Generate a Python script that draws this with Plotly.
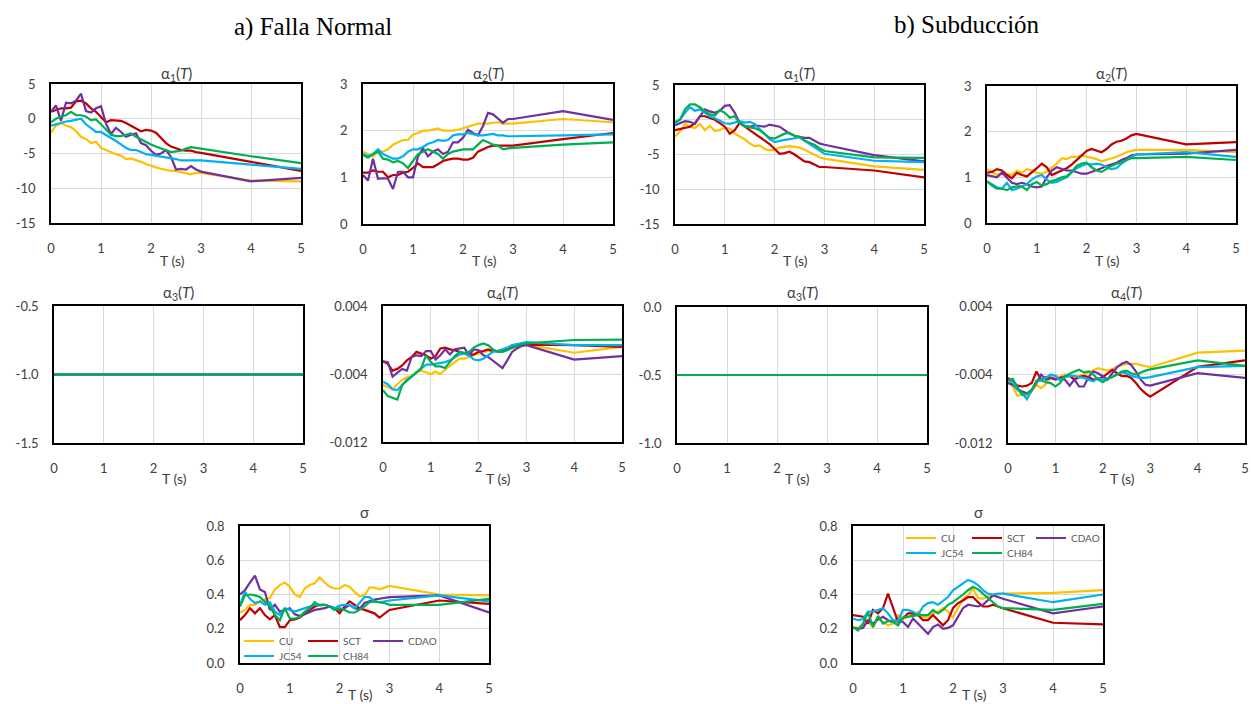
import plotly.graph_objects as go

# ---------------- data ----------------
T = [0.0, 0.1, 0.2, 0.3, 0.4, 0.5, 0.6, 0.7, 0.8, 0.9,
     1.0, 1.1, 1.2, 1.3, 1.4, 1.5, 1.6, 1.7, 1.8, 1.9,
     2.0, 2.1, 2.2, 2.3, 2.4, 2.5, 2.6, 2.7, 2.8, 2.9,
     3.0, 4.0, 5.0]

STATIONS = ["CU", "SCT", "CDAO", "JC54", "CH84"]
COLORS = ["#FFC000", "#C00000", "#7030A0", "#00B0F0", "#00B050"]

# a) Falla Normal - alpha1
fn_a1 = {
    "CU":   [-2.0, -1.0, -0.6, -1.0, -1.2, -1.8, -2.6, -2.9, -3.5, -3.3,
             -4.2, -4.5, -4.9, -5.1, -5.3, -5.8, -5.7, -5.9, -6.2, -6.5,
             -6.8, -7.0, -7.2, -7.4, -7.5, -7.5, -7.7, -7.9, -8.0, -7.8,
             -7.8, -8.9, -9.0],
    "SCT":  [1.0, 1.2, 1.5, 1.5, 1.6, 2.5, 2.6, 2.2, 1.5, 1.0,
             0.3, -0.5, -0.2, -0.3, -0.3, -0.6, -1.0, -1.3, -1.8, -1.6,
             -1.7, -2.0, -2.7, -3.5, -4.0, -4.3, -4.5, -4.6, -4.6, -4.8,
             -4.9, -6.2, -7.5],
    "CDAO": [1.0, 1.9, -0.3, 2.3, 2.2, 2.6, 3.6, 1.1, 0.9, 1.5,
             1.8, -0.7, -2.2, -1.3, -1.9, -2.6, -2.3, -2.1, -3.5, -3.8,
             -4.6, -5.2, -5.0, -4.5, -5.5, -7.3, -7.2, -7.3, -6.8, -7.3,
             -7.6, -9.0, -8.5],
    "JC54": [-1.0, -0.8, -0.5, -0.4, -0.3, -0.2, 0.0, -0.8, -1.4, -1.9,
             -1.9, -2.3, -2.7, -3.2, -3.7, -4.2, -4.5, -4.5, -4.8, -5.1,
             -5.2, -5.3, -5.4, -5.6, -5.7, -5.8, -6.0, -6.0, -5.9, -6.0,
             -6.0, -6.6, -7.2],
    "CH84": [-0.5, 0.0, 0.3, 0.5, 1.0, 0.5, 0.5, 0.3, -0.2, -0.1,
             -0.8, -1.6, -2.3, -2.5, -2.5, -2.3, -2.1, -2.6, -3.0, -3.3,
             -3.7, -4.0, -4.3, -4.5, -4.8, -4.7, -4.6, -4.3, -4.1, -4.2,
             -4.3, -5.4, -6.4],
}

# a) Falla Normal - alpha2
fn_a2 = {
    "CU":   [1.55, 1.5, 1.45, 1.55, 1.55, 1.6, 1.7, 1.75, 1.8, 1.8,
             1.92, 1.95, 2.0, 2.0, 2.02, 2.05, 2.0, 2.0, 2.0, 2.02,
             2.05, 2.08, 2.12, 2.15, 2.15, 2.15, 2.17, 2.18, 2.15, 2.15,
             2.15, 2.25, 2.18],
    "SCT":  [1.1, 1.1, 1.15, 1.12, 1.12, 1.0, 1.05, 1.05, 1.1, 1.12,
             1.2, 1.3, 1.22, 1.22, 1.22, 1.28, 1.35, 1.38, 1.4, 1.4,
             1.38, 1.38, 1.42, 1.55, 1.6, 1.65, 1.68, 1.68, 1.68, 1.68,
             1.68, 1.82, 1.95],
    "CDAO": [1.05, 0.93, 1.4, 0.97, 0.98, 0.97, 0.75, 1.12, 1.12, 1.0,
             1.0, 1.45, 1.62, 1.45, 1.55, 1.6, 1.5, 1.55, 1.75, 1.75,
             1.85, 2.02, 1.95, 1.9, 2.1, 2.38, 2.35, 2.25, 2.17, 2.25,
             2.25, 2.42, 2.23],
    "JC54": [1.5, 1.45, 1.5, 1.6, 1.5, 1.45, 1.4, 1.4, 1.45, 1.55,
             1.6, 1.6, 1.65, 1.72, 1.75, 1.8, 1.78, 1.8, 1.9, 1.92,
             1.92, 1.95, 1.92, 1.9, 1.9, 1.92, 1.93, 1.9, 1.9, 1.88,
             1.88, 1.9, 1.92],
    "CH84": [1.48, 1.42, 1.5, 1.55, 1.4, 1.38, 1.32, 1.35, 1.3, 1.2,
             1.35, 1.5, 1.55, 1.6, 1.55, 1.5, 1.4, 1.5, 1.55, 1.58,
             1.6, 1.6, 1.6, 1.7, 1.8, 1.75, 1.7, 1.68, 1.6, 1.62,
             1.63, 1.7, 1.75],
}

# b) Subduccion - alpha1
su_a1 = {
    "CU":   [-2.4, -1.7, -0.6, -1.0, -1.2, -0.6, -1.5, -0.9, -1.6, -1.5,
             -1.1, -1.3, -2.0, -2.4, -2.8, -3.4, -3.8, -3.7, -4.2, -4.4,
             -4.3, -4.0, -3.9, -3.8, -3.9, -4.0, -4.3, -4.7, -5.1, -5.4,
             -5.6, -6.7, -7.2],
    "SCT":  [-1.5, -1.3, -1.2, -1.0, -0.5, 0.5, 0.5, 0.3, 0.0, -0.5,
             -1.0, -2.0, -1.5, -0.4, -1.0, -1.5, -2.0, -2.5, -3.0, -3.5,
             -4.2, -4.9, -4.8, -4.6, -5.0, -5.5, -6.0, -6.1, -6.4, -6.8,
             -6.8, -7.3, -8.3],
    "CDAO": [-0.8, -0.5, -0.2, -0.3, -0.6, 0.5, 1.5, 1.2, 1.0, 1.3,
             2.0, 2.1, 1.0, -0.5, -0.9, -1.0, -0.8, -0.9, -1.0, -0.7,
             -0.8, -1.0, -1.5, -2.0, -2.3, -2.5, -2.6, -2.6, -3.0, -3.4,
             -3.6, -5.1, -6.0],
    "JC54": [-0.5, 0.0, 1.0, 1.8, 1.3, 1.5, 1.0, 0.5, 0.2, -0.2,
             -0.5, -0.6, -0.4, -0.2, -0.4, -0.3, -0.6, -1.3, -2.0, -2.8,
             -3.2, -3.0, -2.9, -2.8, -2.6, -2.5, -3.0, -3.5, -4.0, -4.5,
             -4.9, -5.9, -6.1],
    "CH84": [-0.3, 0.0, 1.5, 2.2, 2.2, 1.8, 1.2, 0.8, 0.6, 1.4,
             1.0, 0.3, 0.5, -0.5, -1.0, -1.1, -1.2, -1.5, -2.0, -2.6,
             -2.7, -2.4, -2.0, -1.9, -2.3, -2.5, -3.0, -3.3, -3.6, -4.1,
             -4.5, -5.4, -5.5],
}

# b) Subduccion - alpha2
su_a2 = {
    "CU":   [1.18, 1.12, 1.05, 1.1, 1.08, 1.05, 1.15, 1.1, 1.18, 1.15,
             1.1, 1.08, 1.12, 1.2, 1.3, 1.42, 1.4, 1.45, 1.45, 1.48,
             1.45, 1.42, 1.4, 1.35, 1.38, 1.42, 1.45, 1.5, 1.55, 1.58,
             1.6, 1.6, 1.55],
    "SCT":  [1.1, 1.12, 1.18, 1.15, 1.05, 0.98, 1.1, 1.05, 1.02, 1.1,
             1.2, 1.3, 1.22, 1.05, 1.1, 1.15, 1.2, 1.28, 1.38, 1.5,
             1.58, 1.62, 1.58, 1.55, 1.62, 1.72, 1.78, 1.8, 1.85, 1.92,
             1.95, 1.72, 1.77],
    "CDAO": [1.05, 1.02, 1.0, 1.1, 1.0, 0.88, 0.85, 0.88, 0.85, 0.8,
             0.78, 0.8, 1.0, 1.15, 1.22, 1.18, 1.15, 1.15, 1.12, 1.08,
             1.08, 1.12, 1.15, 1.2, 1.25, 1.28, 1.32, 1.38, 1.42, 1.48,
             1.5, 1.52, 1.6],
    "JC54": [0.9, 0.85, 0.78, 0.75, 0.88, 0.72, 0.75, 0.8, 0.85, 0.95,
             1.02, 1.05, 0.95, 0.88, 0.9, 0.95, 1.0, 1.1, 1.2, 1.25,
             1.3, 1.28, 1.3, 1.28, 1.22, 1.18, 1.2, 1.3, 1.38, 1.45,
             1.5, 1.55, 1.45],
    "CH84": [0.92, 0.82, 0.75, 0.75, 0.72, 0.78, 0.8, 0.8, 0.72, 0.85,
             0.9, 0.82, 0.85, 0.92, 0.95, 1.0, 1.02, 1.12, 1.25, 1.3,
             1.32, 1.22, 1.15, 1.12, 1.18, 1.25, 1.3, 1.33, 1.38, 1.42,
             1.42, 1.45, 1.38],
}

# alpha3 (constant with period)
fn_a3 = {"CU": -1.0, "SCT": -1.0, "CDAO": -1.0, "JC54": -1.0, "CH84": -1.0}
su_a3 = {"CU": -0.5, "SCT": -0.5, "CDAO": -0.5, "JC54": -0.5, "CH84": -0.5}

# alpha4, values in units of 1e-3
ALPHA4_UNIT = 1e-3
fn_a4 = {
    "CU":   [-5.3, -5.6, -5.8, -5.2, -4.7, -4.4, -4.2, -3.8, -3.6, -3.8,
             -4.0, -3.7, -4.0, -3.5, -3.0, -2.6, -2.2, -2.2, -2.0, -1.8,
             -1.6, -1.4, -1.3, -1.2, -1.3, -1.2, -1.1, -0.8, -0.7, -0.6,
             -0.55, -1.5, -0.8],
    "SCT":  [-2.5, -2.8, -3.6, -3.4, -3.0, -2.4, -2.0, -1.4, -1.6, -1.8,
             -2.2, -1.9, -1.0, -0.9, -1.1, -1.2, -1.4, -1.6, -1.8, -1.7,
             -1.4, -1.3, -1.1, -1.3, -1.3, -1.2, -1.1, -0.9, -0.7, -0.6,
             -0.55, -0.6, -0.8],
    "CDAO": [-2.5, -2.6, -4.3, -3.8, -3.4, -3.6, -2.0, -1.8, -1.9, -1.3,
             -1.3, -2.3, -1.8, -1.1, -1.7, -1.1, -1.0, -0.9, -1.8, -1.1,
             -1.2, -1.8, -2.0, -2.4, -2.8, -3.3, -2.4, -1.4, -1.0, -0.7,
             -0.6, -2.3, -1.9],
    "JC54": [-4.9, -5.2, -5.8, -5.9, -5.3, -4.7, -4.3, -3.8, -3.3, -2.9,
             -2.9, -2.8, -2.7, -2.6, -2.4, -2.0, -1.7, -1.6, -1.8, -2.3,
             -2.4, -2.2, -1.8, -1.4, -1.3, -1.1, -0.9, -0.6, -0.5, -0.35,
             -0.25, -0.6, -0.6],
    "CH84": [-5.9, -6.6, -6.8, -7.0, -5.3, -4.8, -4.4, -3.9, -3.3, -1.8,
             -2.6, -3.1, -3.1, -3.3, -2.6, -1.9, -1.4, -1.5, -1.4, -0.9,
             -0.6, -0.4, -0.6, -1.1, -1.4, -1.4, -1.2, -0.9, -0.7, -0.5,
             -0.4, 0.0, 0.05],
}
su_a4 = {
    "CU":   [-4.8, -5.4, -6.5, -6.25, -6.6, -6.0, -5.2, -5.6, -5.1, -4.3,
             -4.15, -4.3, -4.0, -4.15, -4.4, -4.15, -4.0, -3.75, -3.45, -3.25,
             -3.4, -3.55, -3.4, -3.05, -2.9, -2.75, -2.75, -2.75, -2.9, -3.05,
             -3.15, -1.45, -1.2],
    "SCT":  [-4.4, -4.8, -5.3, -5.4, -5.3, -5.0, -3.65, -4.6, -4.3, -4.4,
             -4.6, -4.4, -4.3, -4.15, -4.6, -4.3, -4.15, -4.3, -4.6, -4.5,
             -4.3, -3.85, -3.45, -3.85, -4.2, -4.15, -4.4, -5.0, -5.7, -6.2,
             -6.6, -3.1, -2.35],
    "CDAO": [-5.0, -5.2, -5.7, -6.0, -6.2, -5.8, -5.0, -4.0, -4.6, -4.4,
             -4.5, -4.4, -4.6, -5.3, -4.6, -5.4, -5.4, -4.3, -3.65, -3.85,
             -4.2, -4.6, -3.85, -3.15, -2.75, -2.5, -2.9, -3.65, -4.6, -5.2,
             -5.3, -3.85, -4.4],
    "JC54": [-4.6, -4.9, -5.8, -6.2, -6.9, -5.8, -4.8, -4.6, -4.4, -4.0,
             -4.15, -4.7, -4.3, -4.2, -4.15, -4.3, -4.4, -4.6, -4.8, -4.4,
             -4.6, -4.5, -4.3, -4.0, -3.75, -3.85, -4.15, -4.3, -4.4, -4.4,
             -4.3, -3.15, -3.0],
    "CH84": [-4.7, -4.5, -5.5, -6.4, -6.25, -5.8, -4.7, -4.7, -4.9, -5.0,
             -5.4, -5.0, -4.2, -3.9, -3.65, -3.45, -3.75, -3.65, -4.0, -4.6,
             -4.9, -4.5, -4.3, -4.0, -3.65, -3.55, -3.85, -4.0, -3.75, -3.55,
             -3.4, -2.35, -3.0],
}

# sigma
fn_s = {
    "CU":   [0.295, 0.31, 0.34, 0.34, 0.36, 0.37, 0.38, 0.43, 0.455, 0.47,
             0.445, 0.40, 0.385, 0.435, 0.455, 0.465, 0.50, 0.47, 0.445, 0.435,
             0.435, 0.455, 0.445, 0.415, 0.39, 0.395, 0.44, 0.44, 0.43, 0.44,
             0.45, 0.40, 0.395],
    "SCT":  [0.25, 0.28, 0.32, 0.29, 0.32, 0.28, 0.255, 0.28, 0.21, 0.21,
             0.25, 0.255, 0.265, 0.29, 0.31, 0.33, 0.34, 0.34, 0.33, 0.32,
             0.29, 0.33, 0.36, 0.34, 0.32, 0.31, 0.30, 0.29, 0.265, 0.285,
             0.31, 0.365, 0.345],
    "CDAO": [0.40, 0.425, 0.47, 0.51, 0.43, 0.415, 0.31, 0.34, 0.30, 0.31,
             0.32, 0.285, 0.275, 0.285, 0.30, 0.31, 0.315, 0.32, 0.33, 0.32,
             0.31, 0.32, 0.34, 0.32, 0.315, 0.35, 0.36, 0.37, 0.375, 0.38,
             0.385, 0.395, 0.295],
    "JC54": [0.34, 0.415, 0.375, 0.35, 0.36, 0.34, 0.355, 0.30, 0.28, 0.32,
             0.31, 0.30, 0.31, 0.32, 0.33, 0.34, 0.34, 0.34, 0.33, 0.32,
             0.335, 0.34, 0.34, 0.32, 0.35, 0.385, 0.385, 0.36, 0.355, 0.36,
             0.365, 0.395, 0.36],
    "CH84": [0.33, 0.395, 0.40, 0.395, 0.385, 0.36, 0.33, 0.28, 0.25, 0.32,
             0.26, 0.26, 0.27, 0.30, 0.32, 0.355, 0.335, 0.34, 0.33, 0.31,
             0.32, 0.31, 0.295, 0.295, 0.31, 0.33, 0.355, 0.36, 0.355, 0.35,
             0.34, 0.34, 0.375],
}
su_s = {
    "CU":   [0.21, 0.205, 0.225, 0.24, 0.21, 0.26, 0.24, 0.22, 0.23, 0.28,
             0.26, 0.27, 0.28, 0.30, 0.27, 0.265, 0.29, 0.30, 0.32, 0.30,
             0.265, 0.32, 0.375, 0.395, 0.435, 0.38, 0.375, 0.39, 0.40, 0.40,
             0.405, 0.41, 0.425],
    "SCT":  [0.28, 0.275, 0.27, 0.23, 0.31, 0.29, 0.32, 0.405, 0.32, 0.24,
             0.26, 0.29, 0.29, 0.28, 0.25, 0.25, 0.28, 0.25, 0.22, 0.25,
             0.32, 0.35, 0.365, 0.385, 0.385, 0.355, 0.33, 0.33, 0.34, 0.33,
             0.32, 0.235, 0.225],
    "CDAO": [0.205, 0.20, 0.205, 0.25, 0.23, 0.255, 0.27, 0.25, 0.24, 0.245,
             0.24, 0.21, 0.26, 0.23, 0.20, 0.17, 0.21, 0.225, 0.20, 0.205,
             0.22, 0.27, 0.32, 0.34, 0.335, 0.33, 0.34, 0.365, 0.395, 0.385,
             0.375, 0.29, 0.33],
    "JC54": [0.26, 0.25, 0.255, 0.30, 0.30, 0.31, 0.32, 0.29, 0.25, 0.245,
             0.31, 0.31, 0.30, 0.28, 0.33, 0.35, 0.355, 0.34, 0.36, 0.385,
             0.425, 0.445, 0.47, 0.485, 0.475, 0.455, 0.425, 0.405, 0.40, 0.405,
             0.405, 0.355, 0.40],
    "CH84": [0.21, 0.19, 0.23, 0.295, 0.21, 0.275, 0.23, 0.245, 0.24, 0.22,
             0.265, 0.27, 0.275, 0.28, 0.28, 0.28, 0.31, 0.29, 0.31, 0.34,
             0.355, 0.375, 0.40, 0.425, 0.445, 0.43, 0.405, 0.375, 0.35, 0.33,
             0.32, 0.31, 0.345],
}

X_TICKS = [0, 1, 2, 3, 4, 5]
Y_TICKS_A1 = [-15, -10, -5, 0, 5]
Y_TEXT_A1 = ["-15", "-10", "-5", "0", "5"]
Y_TICKS_A2 = [0, 1, 2, 3]
Y_TEXT_A2 = ["0", "1", "2", "3"]
Y_TICKS_A3_FN = [-1.5, -1.0, -0.5]
Y_TEXT_A3_FN = ["-1.5", "-1.0", "-0.5"]
Y_TICKS_A3_SU = [-1.0, -0.5, 0.0]
Y_TEXT_A3_SU = ["-1.0", "-0.5", "0.0"]
Y_TICKS_A4 = [-0.012, -0.004, 0.004]
Y_TEXT_A4 = ["-0.012", "-0.004", "0.004"]
Y_TICKS_S = [0.0, 0.2, 0.4, 0.6, 0.8]
Y_TEXT_S = ["0.0", "0.2", "0.4", "0.6", "0.8"]

for d in (fn_a1, fn_a2, su_a1, su_a2, fn_a4, su_a4, fn_s, su_s):
    for s in STATIONS:
        assert len(d[s]) == len(T), (s, len(d[s]))

# ---------------- layout helpers ----------------
W, H = 1251, 704
FONT = "Lato, 'Noto Sans', sans-serif"
TXT = "#404040"
GRID = "#D9D9D9"

def a1_title(n):
    return "\u03b1<sub>%d</sub>(<i>T</i>)" % n

# (data, kind, box l,t,r,b, title, yrange, yticks, ytext, ygrid, row)
panels = [
    (fn_a1, "v", (51, 84, 301, 223), a1_title(1), [-15, 5], Y_TICKS_A1, Y_TEXT_A1, True, 1),
    (fn_a2, "v", (363, 84, 613, 224), a1_title(2), [0, 3], Y_TICKS_A2, Y_TEXT_A2, True, 1),
    (su_a1, "v", (675, 85, 924, 224), a1_title(1), [-15, 5], Y_TICKS_A1, Y_TEXT_A1, True, 1),
    (su_a2, "v", (987, 86, 1236, 223), a1_title(2), [0, 3], Y_TICKS_A2, Y_TEXT_A2, True, 1),
    (fn_a3, "c", (54, 306, 303, 443), a1_title(3), [-1.5, -0.5], Y_TICKS_A3_FN, Y_TEXT_A3_FN, False, 2),
    (fn_a4, "m", (383, 306, 622, 442), a1_title(4), [-0.012, 0.004], Y_TICKS_A4, Y_TEXT_A4, True, 2),
    (su_a3, "c", (677, 307, 927, 443), a1_title(3), [-1.0, 0.0], Y_TICKS_A3_SU, Y_TEXT_A3_SU, False, 2),
    (su_a4, "m", (1008, 306, 1245, 443), a1_title(4), [-0.012, 0.004], Y_TICKS_A4, Y_TEXT_A4, True, 2),
    (fn_s, "v", (240, 526, 489, 663), "\u03c3", [0, 0.8], Y_TICKS_S, Y_TEXT_S, True, 3),
    (su_s, "v", (853, 526, 1103, 663), "\u03c3", [0, 0.8], Y_TICKS_S, Y_TEXT_S, True, 3),
]
TITLE_Y = {1: 74, 2: 293, 3: 512}
XTITLE_Y = {1: 260, 2: 478, 3: 694}

# legend entry positions (line start x, row y) in pixels, per sigma panel
LEG_POS = {
    9:  {"CU": (245, 641), "SCT": (309, 641), "CDAO": (374, 641),
         "JC54": (245, 656), "CH84": (309, 656)},
    10: {"CU": (907, 538), "SCT": (973, 538), "CDAO": (1037, 538),
         "JC54": (907, 553), "CH84": (973, 553)},
}

fig = go.Figure()
annotations = []
layout = {}
leg_count = 0

def leg(xpx, ypx):
    return dict(x=(xpx - 6) / W, y=1 - ypx / H, xref="paper", yref="paper",
                xanchor="left", yanchor="middle", orientation="h",
                font=dict(family=FONT, size=10, color="#595959"),
                bgcolor="rgba(0,0,0,0)", borderwidth=0, itemwidth=30,
                tracegroupgap=0)

for i, (data, kind, box, title, yr, ytv, ytt, ygrid, row) in enumerate(panels):
    n = i + 1
    sfx = "" if n == 1 else str(n)
    l, t, r, b = box
    for s, c in zip(STATIONS, COLORS):
        if kind == "c":
            y = [data[s]] * len(T)
        elif kind == "m":
            y = [v * ALPHA4_UNIT for v in data[s]]
        else:
            y = data[s]
        tr = dict(x=T, y=y, mode="lines", name=s,
                  line=dict(color=c, width=2.2),
                  xaxis="x" + sfx, yaxis="y" + sfx,
                  showlegend=False, hoverinfo="skip")
        if n in LEG_POS:
            leg_count += 1
            lname = "legend" if leg_count == 1 else "legend%d" % leg_count
            tr["showlegend"] = True
            tr["legend"] = lname
            layout[lname] = leg(*LEG_POS[n][s])
        fig.add_trace(go.Scatter(**tr))

    layout["xaxis" + sfx] = dict(
        domain=[l / W, r / W], anchor="y" + sfx, range=[0, 5],
        tickvals=X_TICKS, ticktext=[str(v) for v in X_TICKS],
        showgrid=True, gridcolor=GRID, gridwidth=1,
        showline=True, linecolor="black", linewidth=1.6, mirror=True,
        zeroline=False, ticks="", ticklabelstandoff=13,
        tickfont=dict(family=FONT, size=13, color=TXT), automargin=False)
    layout["yaxis" + sfx] = dict(
        domain=[1 - b / H, 1 - t / H], anchor="x" + sfx, range=yr,
        tickvals=ytv, ticktext=ytt,
        showgrid=ygrid, gridcolor=GRID, gridwidth=1,
        showline=True, linecolor="black", linewidth=1.6, mirror=True,
        zeroline=False, ticks="", ticklabelstandoff=11,
        tickfont=dict(family=FONT, size=13, color=TXT), automargin=False)

    cx = (l + r) / 2 / W
    annotations.append(dict(text=title, x=cx, y=1 - TITLE_Y[row] / H,
                            xref="paper", yref="paper", showarrow=False,
                            xanchor="center", yanchor="middle",
                            font=dict(family=FONT, size=15, color=TXT)))
    annotations.append(dict(text="T (s)", x=cx - 4 / W, y=1 - XTITLE_Y[row] / H,
                            xref="paper", yref="paper", showarrow=False,
                            xanchor="center", yanchor="middle",
                            font=dict(family=FONT, size=14, color=TXT)))

annotations.append(dict(text="a) Falla Normal", x=313 / W, y=1 - 27 / H,
                        xref="paper", yref="paper", showarrow=False,
                        xanchor="center", yanchor="middle",
                        font=dict(family="'Liberation Serif', 'Times New Roman', serif", size=25, color="black")))
annotations.append(dict(text="b) Subducción", x=967 / W, y=1 - 25 / H,
                        xref="paper", yref="paper", showarrow=False,
                        xanchor="center", yanchor="middle",
                        font=dict(family="'Liberation Serif', 'Times New Roman', serif", size=25, color="black")))

fig.update_layout(width=W, height=H, margin=dict(l=0, r=0, t=0, b=0),
                  paper_bgcolor="white", plot_bgcolor="white",
                  annotations=annotations, **layout)

fig.write_html("out.html", config={"displayModeBar": False})
